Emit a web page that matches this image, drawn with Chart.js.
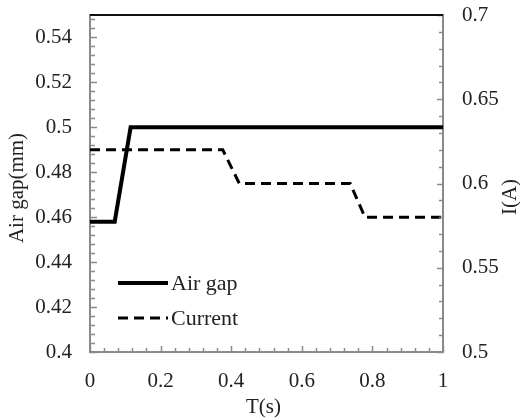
<!DOCTYPE html>
<html>
<head>
<meta charset="utf-8">
<script src="https://cdn.jsdelivr.net/npm/chart.js@4/dist/chart.umd.min.js"></script>
<style>
  html, body { margin: 0; padding: 0; background: #fff; }
  #wrap { width: 520px; height: 420px; }
</style>
</head>
<body>
<div id="wrap"><canvas id="chart" width="520" height="420"></canvas></div>
<script>
// values
const airGapT = [0, 0.07, 0.115, 1];
const airGapMm = [0.458, 0.458, 0.5, 0.5];
const currentT = [0, 0.376, 0.423, 0.737, 0.779, 1];
const currentA = [0.62, 0.62, 0.6, 0.6, 0.58, 0.58];

const xTicks = [0, 0.2, 0.4, 0.6, 0.8, 1];
const yLeftTicks = [0.4, 0.42, 0.44, 0.46, 0.48, 0.5, 0.52, 0.54];
const yRightTicks = [0.5, 0.55, 0.6, 0.65, 0.7];

const FONT = 'Liberation Serif';
const FS = 21;
const AXIS_GREY = '#8a8a8a';
const TEXT = '#222';

function pts(xs, ys) {
    return xs.map((x, i) => ({ x: x, y: ys[i] }));
}

function fmt(v) {
    return String(+v.toFixed(2));
}

function fixSide(s, w) {
    s.width = w;
    s.paddingTop = 0;
    s.paddingBottom = 0;
}

// inward tick marks, frame top line, axis titles, legend
const decor = {
    id: 'decor',
    afterDraw(chart) {
        const ctx = chart.ctx;
        const a = chart.chartArea;
        const x = chart.scales.x, yl = chart.scales.y, yr = chart.scales.y1;
        ctx.save();
        ctx.strokeStyle = AXIS_GREY;
        ctx.lineWidth = 1.5;
        ctx.beginPath();
        // x: minor every 0.04
        for (let i = 0; i <= 25; i++) {
            const px = Math.round(x.getPixelForValue(i * 0.04)) + 0.5;
            const len = i % 5 === 0 ? 6 : 4;
            ctx.moveTo(px, a.bottom);
            ctx.lineTo(px, a.bottom - len);
        }
        // left: minor every 0.004
        for (let i = 0; i <= 37; i++) {
            const py = Math.round(yl.getPixelForValue(0.4 + i * 0.004)) + 0.5;
            const len = i % 5 === 0 ? 7 : 5;
            ctx.moveTo(a.left, py);
            ctx.lineTo(a.left + len, py);
        }
        // right: minor every 0.01
        for (let i = 0; i <= 20; i++) {
            const py = Math.round(yr.getPixelForValue(0.5 + i * 0.01)) + 0.5;
            const len = i % 5 === 0 ? 6 : 4;
            ctx.moveTo(a.right, py);
            ctx.lineTo(a.right - len, py);
        }
        ctx.stroke();

        // top frame line
        ctx.strokeStyle = '#111';
        ctx.lineWidth = 2;
        ctx.beginPath();
        ctx.moveTo(a.left, a.top);
        ctx.lineTo(a.right, a.top);
        ctx.stroke();

        // axis titles
        ctx.fillStyle = TEXT;
        ctx.font = FS + 'px "' + FONT + '"';
        ctx.textAlign = 'center';
        ctx.textBaseline = 'middle';
        ctx.fillText('T(s)', (a.left + a.right) / 2 - 3, 407);
        ctx.save();
        ctx.translate(17, 188);
        ctx.rotate(-Math.PI / 2);
        ctx.fillText('Air gap(mm)', 0, 0);
        ctx.restore();
        ctx.save();
        ctx.translate(510, 197);
        ctx.rotate(-Math.PI / 2);
        ctx.fillText('I(A)', 0, 0);
        ctx.restore();

        // legend
        const rows = [283, 318];
        ctx.font = '22px "' + FONT + '"';
        chart.data.datasets.forEach((ds, i) => {
            const y = rows[i];
            ctx.strokeStyle = ds.borderColor;
            ctx.lineWidth = ds.borderWidth;
            ctx.setLineDash(ds.borderDash || []);
            ctx.beginPath();
            ctx.moveTo(118, y);
            ctx.lineTo(168, y);
            ctx.stroke();
            ctx.setLineDash([]);
            ctx.textAlign = 'left';
            ctx.fillText(ds.label, 171, y + 1);
        });
        ctx.restore();
    }
};

new Chart(document.getElementById('chart'), {
    type: 'line',
    data: {
        datasets: [
            {
                label: 'Air gap',
                data: pts(airGapT, airGapMm),
                yAxisID: 'y',
                borderColor: '#000',
                borderWidth: 4,
                pointRadius: 0,
                tension: 0
            },
            {
                label: 'Current',
                data: pts(currentT, currentA),
                yAxisID: 'y1',
                borderColor: '#000',
                borderWidth: 3,
                borderDash: [10, 6],
                pointRadius: 0,
                tension: 0
            }
        ]
    },
    options: {
        responsive: false,
        animation: false,
        layout: { padding: { top: 15, left: 0, right: 0, bottom: 0 } },
        plugins: { legend: { display: false }, tooltip: { enabled: false } },
        scales: {
            x: {
                type: 'linear',
                min: 0, max: 1,
                afterBuildTicks: s => { s.ticks = xTicks.map(v => ({ value: v })); },
                afterFit: s => { s.height = 68; s.paddingLeft = 0; s.paddingRight = 0; },
                grid: { display: false, drawTicks: false },
                border: { display: true, color: AXIS_GREY, width: 2 },
                ticks: {
                    padding: 17, color: TEXT, maxRotation: 0,
                    font: { family: FONT, size: FS },
                    callback: v => fmt(v)
                }
            },
            y: {
                position: 'left',
                min: 0.4, max: 0.55,
                afterBuildTicks: s => { s.ticks = yLeftTicks.map(v => ({ value: v })); },
                afterFit: s => fixSide(s, 90),
                grid: { display: false, drawTicks: false },
                border: { display: true, color: AXIS_GREY, width: 2 },
                ticks: {
                    padding: 18, color: TEXT,
                    font: { family: FONT, size: FS },
                    callback: v => fmt(v)
                }
            },
            y1: {
                position: 'right',
                min: 0.5, max: 0.7,
                afterBuildTicks: s => { s.ticks = yRightTicks.map(v => ({ value: v })); },
                afterFit: s => fixSide(s, 77),
                grid: { display: false, drawTicks: false },
                border: { display: true, color: AXIS_GREY, width: 2 },
                ticks: {
                    padding: 19, color: TEXT,
                    font: { family: FONT, size: FS },
                    callback: v => fmt(v)
                }
            }
        }
    },
    plugins: [decor]
});
</script>
</body>
</html>
